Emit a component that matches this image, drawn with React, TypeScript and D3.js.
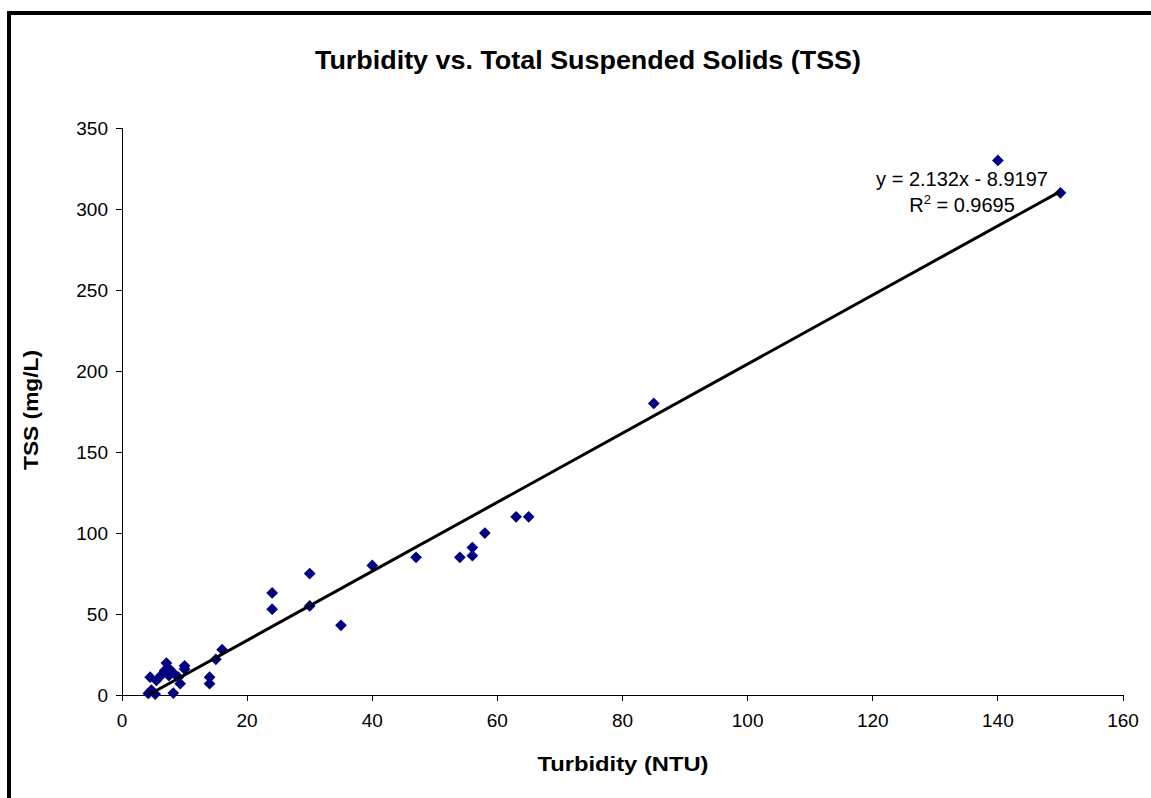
import React from "react";
import * as d3 from "d3";

// Field measurements: turbidity (NTU) and total suspended solids (mg/L)
const turbidity = [150, 140, 85, 65, 63, 58, 56, 56, 54, 47, 40, 35, 30, 30, 24, 24, 16, 15, 14, 14, 10, 10, 9, 9.3, 8.2, 8.2, 7.4, 7.1, 6.3, 5.3, 4.7, 4.5, 4.2, 7.5, 6.8, 5.5];
const tss = [310, 330, 180, 110, 110, 100, 91, 86, 85, 85, 80, 43, 75, 55, 63, 53, 28, 22, 11, 7, 18, 16, 11, 7, 13.6, 1.2, 16.7, 19.7, 12.3, 0.6, 3, 11, 1, 12, 15, 9];

const xTicks = [0, 20, 40, 60, 80, 100, 120, 140, 160];
const yTicks = [0, 50, 100, 150, 200, 250, 300, 350];

// Linear trendline
const slope = 2.132;
const intercept = -8.9197;
const rSquared = "0.9695";

const W = 1151;
const H = 798;
const FONT = "'Liberation Sans', Arial, sans-serif";

export default function App() {
  const x = d3.scaleLinear().domain([0, 160]).range([122, 1123]);
  const y = d3.scaleLinear().domain([0, 350]).range([695, 128]);

  const pts = turbidity.map((t, i) => ({ t, s: tss[i] }));
  const xMin = d3.min(turbidity) as number;
  const xMax = d3.max(turbidity) as number;
  const fitLine = d3.line<number>()
    .x((v) => x(v))
    .y((v) => y(slope * v + intercept));

  const diamond = d3.symbol().type(d3.symbolDiamond2).size(88)();

  return (
    <svg width={W} height={H} style={{ position: "absolute", left: 0, top: 0, background: "#fff" }} fontFamily={FONT}>
      <rect x={0} y={0} width={W} height={H} fill="#fff" />
      {/* outer frame (top and left edges) */}
      <rect x={7} y={11} width={W - 7} height={4} fill="#000" />
      <rect x={7} y={11} width={4} height={H - 11} fill="#000" />

      <text x={588} y={69} textAnchor="middle" fontSize={25} fontWeight="bold" textLength={546} lengthAdjust="spacingAndGlyphs">
        Turbidity vs. Total Suspended Solids (TSS)
      </text>

      {/* axes */}
      <g shapeRendering="crispEdges" stroke="#000" strokeWidth={1}>
        <line x1={x(0)} x2={x(160)} y1={y(0)} y2={y(0)} />
        <line x1={x(0)} x2={x(0)} y1={y(0)} y2={y(350)} />
        {xTicks.map((v) => (
          <line key={"xt" + v} x1={x(v)} x2={x(v)} y1={y(0)} y2={y(0) + 6} />
        ))}
        {yTicks.map((v) => (
          <line key={"yt" + v} x1={x(0) - 6} x2={x(0)} y1={y(v)} y2={y(v)} />
        ))}
      </g>
      {xTicks.map((v) => (
        <text key={"xl" + v} x={x(v)} y={y(0) + 32} textAnchor="middle" fontSize={19}>
          {v}
        </text>
      ))}
      {yTicks.map((v) => (
        <text key={"yl" + v} x={x(0) - 14} y={y(v) + 7} textAnchor="end" fontSize={19}>
          {v}
        </text>
      ))}

      <text x={623} y={771} textAnchor="middle" fontSize={21} fontWeight="bold" textLength={171} lengthAdjust="spacingAndGlyphs">
        Turbidity (NTU)
      </text>
      <text transform={`translate(38,410) rotate(-90)`} textAnchor="middle" fontSize={21} fontWeight="bold" textLength={120} lengthAdjust="spacingAndGlyphs">
        TSS (mg/L)
      </text>

      {/* data points */}
      {pts.map((p, i) => (
        <path key={i} d={diamond as string} transform={`translate(${x(p.t)},${y(p.s)})`} fill="#000080" />
      ))}

      {/* trendline */}
      <path d={fitLine([xMin, xMax]) as string} stroke="#000" strokeWidth={3} fill="none" />

      <text x={962} y={186} textAnchor="middle" fontSize={20}>
        y = 2.132x - 8.9197
      </text>
      <text x={962} y={212} textAnchor="middle" fontSize={20}>
        R<tspan dy={-8} fontSize={13}>2</tspan>
        <tspan dy={8}> = {rSquared}</tspan>
      </text>
    </svg>
  );
}
